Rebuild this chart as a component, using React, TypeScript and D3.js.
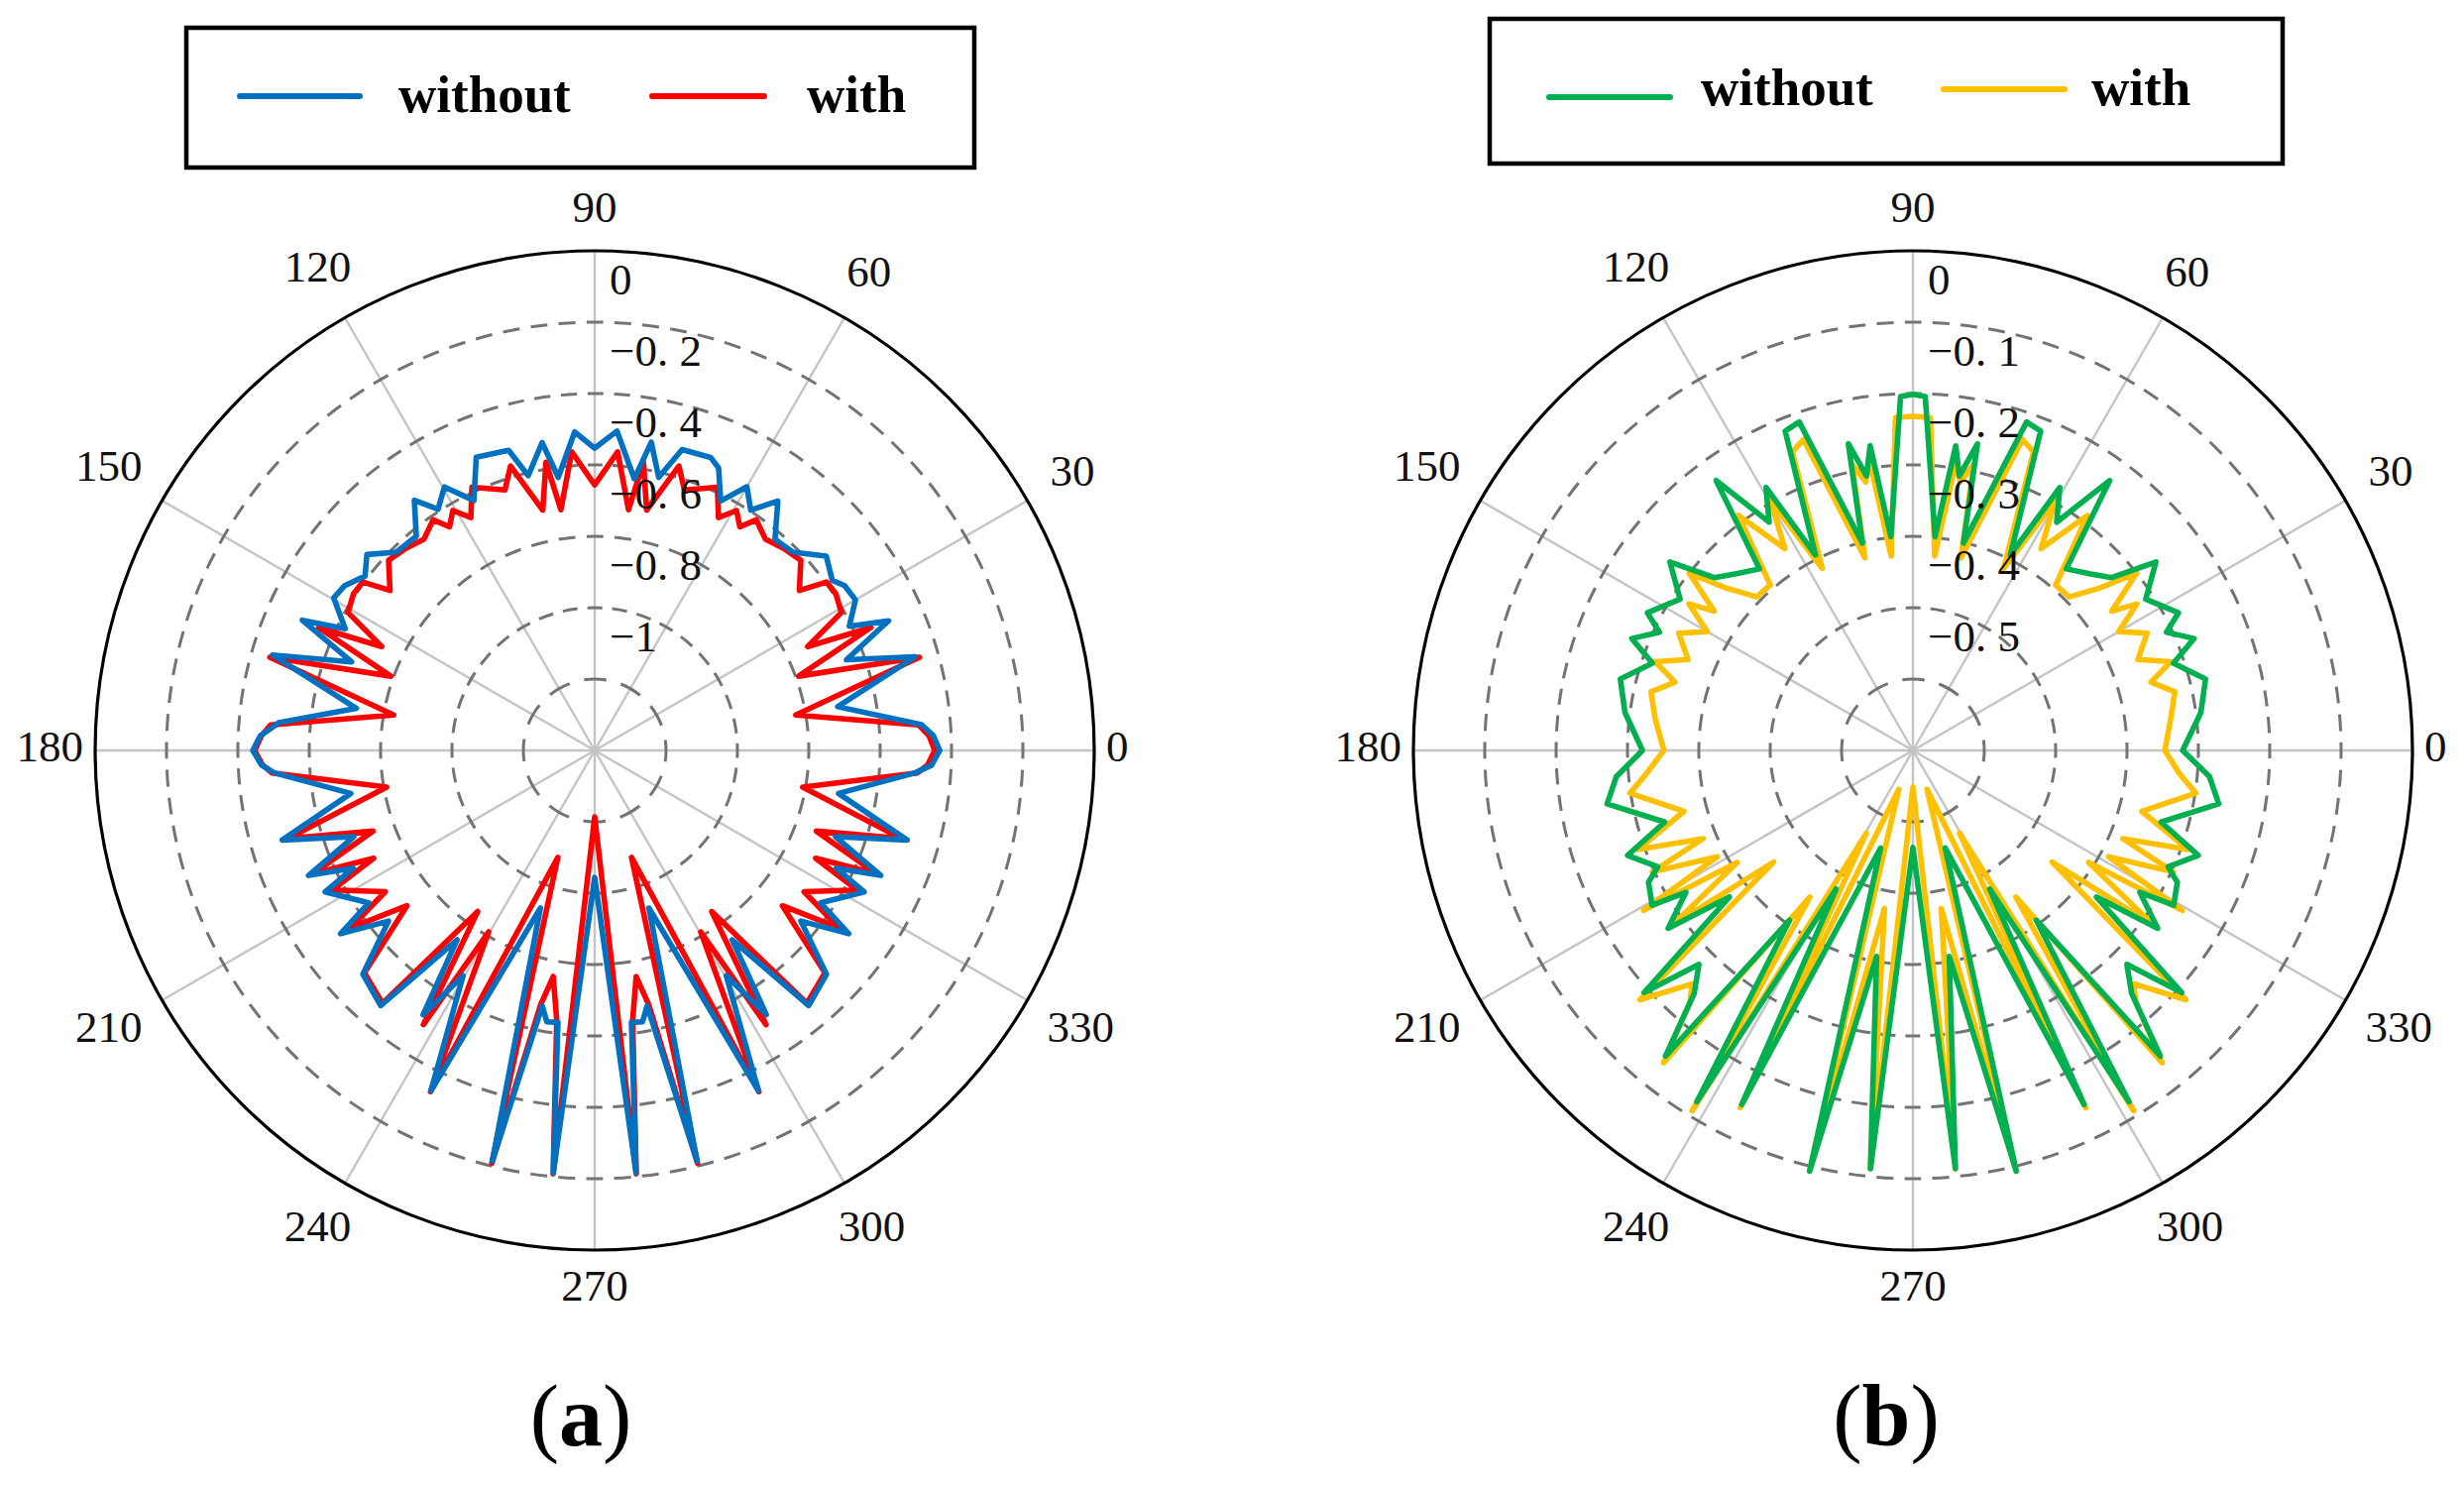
import React from "react";
import * as d3 from "d3";

const WIDTH = 2486;
const HEIGHT = 1499;

// ---------- shared axis data ----------
const ANGLE_TICKS = [0, 30, 60, 90, 120, 150, 180, 210, 240, 270, 300, 330];
const SERIES_LABELS = ["without", "with"];

// ---------- panel (a) ----------
const A_DOMAIN: [number, number] = [-1.4, 0];
const A_RINGS = [-1.2, -1, -0.8, -0.6, -0.4, -0.2];
const A_TICK_LABELS = [0, -0.2, -0.4, -0.6, -0.8, -1];

const A_WITHOUT_ANGLES = [
  0, 2.5, 4.5, 10.2, 16.3, 19.8, 23.8, 26, 30, 33.4, 35.6, 40, 45, 49.5, 53.7, 57, 60, 63.2, 66.3, 68.4, 73.8,
  76.8, 79.6, 81.7, 86, 90, 93.6, 97.6, 99.7, 103.6, 106, 112, 115.8, 119.7, 123, 125.8, 129.8, 135, 139.3,
  142.8, 146.6, 149.7, 154, 156, 160, 163.5, 170, 175, 177.5, 180, 182.5, 184, 190, 196, 199.7, 203.6, 206,
  207.7, 214, 215.8, 219.6, 224, 230, 234, 237, 239.7, 244.3, 251, 256, 258.4, 260, 262.3, 264.4, 270, 275.6,
  277.7, 280, 281.6, 284, 289, 295.7, 300.3, 303, 306, 310, 316, 320.4, 324.2, 326, 332.3, 334, 336.4, 340.3,
  344, 350, 356, 357.5, 360,
];
const A_WITHOUT_VALUES = [
  -0.433, -0.45, -0.481, -0.708, -0.464, -0.65, -0.5, -0.606, -0.556, -0.561, -0.581, -0.553, -0.614, -0.622,
  -0.533, -0.597, -0.547, -0.617, -0.536, -0.517, -0.522, -0.614, -0.522, -0.631, -0.503, -0.553, -0.506,
  -0.628, -0.525, -0.608, -0.525, -0.514, -0.622, -0.55, -0.594, -0.536, -0.619, -0.614, -0.558, -0.592,
  -0.561, -0.553, -0.622, -0.503, -0.675, -0.458, -0.722, -0.511, -0.462, -0.442, -0.465, -0.5, -0.706,
  -0.489, -0.683, -0.525, -0.647, -0.547, -0.636, -0.522, -0.65, -0.497, -0.467, -0.744, -0.517, -0.669,
  -0.342, -0.933, -0.214, -0.669, -0.628, -0.631, -0.211, -1.044, -0.211, -0.631, -0.628, -0.669, -0.214,
  -0.933, -0.342, -0.669, -0.517, -0.744, -0.467, -0.497, -0.65, -0.522, -0.636, -0.547, -0.647, -0.525,
  -0.683, -0.489, -0.706, -0.5, -0.455, -0.433,
];

const A_WITH_ANGLES = [
  0, 2.5, 4.5, 10, 16, 20, 24, 26, 29.2, 33, 36, 38, 42.7, 47, 51, 55, 57, 59.4, 62, 65, 71, 73.5, 77.8, 80.4,
  82, 85.6, 90, 94.4, 98, 99.6, 102.2, 106.5, 109, 115, 118, 120.6, 123, 125, 129, 133, 137.3, 142, 144,
  147, 150.8, 154, 156, 160, 164, 170, 175.5, 177.5, 180, 182.5, 184, 190, 196, 200, 203.6, 206, 208, 214,
  216, 219.6, 224, 230, 234, 238, 239.7, 244.3, 251, 256, 258, 259.6, 262, 264.4, 270, 275.6, 278, 280.4,
  282, 284, 289, 295.7, 300.3, 302, 306, 310, 316, 320.4, 324, 326, 332, 334, 336.4, 340, 344, 350, 356,
  357.5, 360,
];
const A_WITH_VALUES = [
  -0.447, -0.462, -0.489, -0.828, -0.453, -0.792, -0.553, -0.736, -0.608, -0.594, -0.597, -0.672, -0.614,
  -0.625, -0.639, -0.611, -0.653, -0.619, -0.661, -0.586, -0.628, -0.569, -0.711, -0.581, -0.719, -0.561,
  -0.656, -0.561, -0.719, -0.581, -0.711, -0.569, -0.628, -0.586, -0.661, -0.619, -0.653, -0.611, -0.639,
  -0.625, -0.614, -0.672, -0.597, -0.594, -0.608, -0.736, -0.553, -0.792, -0.453, -0.828, -0.489, -0.465,
  -0.447, -0.468, -0.494, -0.808, -0.506, -0.739, -0.539, -0.711, -0.567, -0.692, -0.553, -0.717, -0.503,
  -0.475, -0.842, -0.494, -0.811, -0.339, -1.083, -0.208, -0.672, -0.756, -0.636, -0.208, -1.214, -0.208,
  -0.636, -0.756, -0.672, -0.208, -1.083, -0.339, -0.811, -0.494, -0.842, -0.475, -0.503, -0.717, -0.553,
  -0.692, -0.567, -0.711, -0.539, -0.739, -0.506, -0.808, -0.494, -0.466, -0.447,
];

// ---------- panel (b) ----------
const B_DOMAIN: [number, number] = [-0.7, 0];
const B_RINGS = [-0.6, -0.5, -0.4, -0.3, -0.2, -0.1];
const B_TICK_LABELS = [0, -0.1, -0.2, -0.3, -0.4, -0.5];

const B_WITHOUT_ANGLES = [
  0, 7.5, 13.7, 18.5, 21.7, 25, 27.4, 33, 37.8, 41, 45, 49.8, 53.9, 57.8, 60.8, 63.5, 68.2, 70.9, 76.3,
  78.1, 80.4, 82, 84.1, 88, 90, 92, 95.9, 98, 99.6, 101.9, 103.7, 109.1, 111.8, 116.5, 119.2, 122.2, 126.1,
  130.2, 135, 139, 142.2, 147, 152.6, 155, 158.3, 161.5, 166.3, 172.5, 180, 185, 189.9, 196.1, 200.2, 204.5,
  206.5, 210.7, 212, 216, 218.6, 222, 225, 228, 231, 234, 238.4, 241, 244.2, 251.7, 256.2, 260, 264.2, 270,
  275.8, 280, 283.8, 288.3, 295.8, 299, 301.6, 306, 309, 312, 315, 318, 321.4, 324, 328, 329.3, 333.5,
  335.5, 339.8, 343.9, 350.1, 355, 360,
];
const B_WITHOUT_VALUES = [
  -0.322, -0.293, -0.278, -0.315, -0.276, -0.308, -0.281, -0.311, -0.269, -0.331, -0.35, -0.367, -0.232,
  -0.322, -0.278, -0.394, -0.218, -0.213, -0.401, -0.261, -0.31, -0.269, -0.399, -0.204, -0.201, -0.204,
  -0.399, -0.269, -0.31, -0.261, -0.401, -0.213, -0.218, -0.394, -0.278, -0.322, -0.232, -0.367, -0.35,
  -0.331, -0.269, -0.311, -0.281, -0.308, -0.276, -0.315, -0.278, -0.293, -0.321, -0.283, -0.265, -0.338,
  -0.274, -0.307, -0.286, -0.275, -0.325, -0.276, -0.371, -0.193, -0.276, -0.242, -0.149, -0.406, -0.122,
  -0.478, -0.149, -0.556, -0.093, -0.407, -0.111, -0.564, -0.111, -0.407, -0.093, -0.556, -0.149, -0.478,
  -0.122, -0.406, -0.149, -0.242, -0.276, -0.193, -0.371, -0.276, -0.325, -0.275, -0.286, -0.307, -0.274,
  -0.338, -0.265, -0.283, -0.322,
];

const B_WITH_ANGLES = [
  0, 7, 12.6, 16, 19, 22, 26.6, 30, 33.2, 35, 38.4, 41, 44.5, 49.2, 53.4, 57.6, 60.3, 63.5, 68, 70.6, 76,
  78, 80, 81.5, 83.6, 87, 90, 93, 96.4, 98.5, 100, 102, 104, 109.4, 112, 116.5, 119.7, 122.4, 126.6, 130.8,
  135.5, 139, 141.6, 145, 146.8, 150, 153.4, 158, 161, 164, 167.4, 173, 180, 185, 188.6, 194.9, 199.8,
  202.8, 205, 208.5, 210.7, 212.5, 216, 218.7, 222.4, 226.6, 228.5, 231.4, 234.9, 238.5, 240.6, 244.2, 250,
  256.2, 259.8, 264.2, 270, 275.8, 280.2, 283.8, 290, 295.8, 299.4, 301.5, 305.1, 308.6, 311.5, 313.4,
  317.6, 321.3, 324, 327.5, 329.3, 331.5, 335, 337.2, 340.2, 345.1, 351.4, 355, 360,
];
const B_WITH_VALUES = [
  -0.347, -0.336, -0.324, -0.353, -0.318, -0.36, -0.333, -0.367, -0.325, -0.36, -0.3, -0.353, -0.393,
  -0.394, -0.29, -0.365, -0.297, -0.415, -0.249, -0.238, -0.422, -0.29, -0.318, -0.29, -0.426, -0.233,
  -0.232, -0.233, -0.426, -0.29, -0.318, -0.29, -0.422, -0.238, -0.249, -0.415, -0.297, -0.365, -0.29,
  -0.394, -0.393, -0.353, -0.3, -0.36, -0.325, -0.367, -0.333, -0.36, -0.318, -0.353, -0.324, -0.336,
  -0.351, -0.325, -0.299, -0.368, -0.29, -0.381, -0.297, -0.388, -0.261, -0.408, -0.283, -0.45, -0.182,
  -0.25, -0.228, -0.14, -0.449, -0.108, -0.567, -0.144, -0.642, -0.093, -0.475, -0.111, -0.649, -0.111,
  -0.475, -0.093, -0.642, -0.144, -0.567, -0.108, -0.449, -0.14, -0.228, -0.25, -0.182, -0.45, -0.283,
  -0.408, -0.261, -0.388, -0.297, -0.381, -0.29, -0.368, -0.299, -0.325, -0.347,
];

// ---------- styling ----------
const FONT = "'Liberation Serif', 'Times New Roman', serif";
const COLOR_A_WITHOUT = "#0070C0";
const COLOR_A_WITH = "#FF0000";
const COLOR_B_WITHOUT = "#00B050";
const COLOR_B_WITH = "#FFC000";

type Series = { angles: number[]; values: number[]; color: string };

function fmtTick(v: number): string {
  if (v === 0) return "0";
  const s = String(Math.abs(v));
  return "\u2212" + s.replace(".", ". ");
}

function ringDash(r: number) {
  const arc = (Math.PI * r) / 6;
  const n = Math.max(1, Math.round(arc / 27));
  const p = arc / n;
  const dash = p * 0.6;
  return { dasharray: `${dash.toFixed(2)} ${(p - dash).toFixed(2)}`, offset: dash / 2 };
}

function PolarPanel(props: {
  cx: number;
  cy: number;
  R: number;
  domain: [number, number];
  rings: number[];
  ticks: number[];
  series: Series[];
}) {
  const { cx, cy, R, domain, rings, ticks, series } = props;
  const rScale = d3.scaleLinear().domain(domain).range([0, R]);
  const line = d3
    .lineRadial<[number, number]>()
    .angle((d) => ((90 - d[0]) * Math.PI) / 180)
    .radius((d) => rScale(d[1]));

  return (
    <g transform={`translate(${cx},${cy})`}>
      {ANGLE_TICKS.map((a) => {
        const t = (a * Math.PI) / 180;
        return (
          <line
            key={"sp" + a}
            x1={0}
            y1={0}
            x2={R * Math.cos(t)}
            y2={-R * Math.sin(t)}
            stroke="#c4c4c4"
            strokeWidth={2.4}
          />
        );
      })}
      {rings.map((v) => {
        const r = rScale(v);
        const dd = ringDash(r);
        return (
          <path
            key={"ring" + v}
            d={`M ${r} 0 A ${r} ${r} 0 1 1 ${-r} 0 A ${r} ${r} 0 1 1 ${r} 0`}
            fill="none"
            stroke="#737373"
            strokeWidth={3}
            strokeDasharray={dd.dasharray}
            strokeDashoffset={dd.offset}
          />
        );
      })}
      <circle r={R} fill="none" stroke="#000" strokeWidth={3.2} />
      {series.map((s, i) => {
        const pts: [number, number][] = s.angles.map((a, k) => [a, s.values[k]]);
        return (
          <path
            key={"s" + i}
            d={line(pts) || ""}
            fill="none"
            stroke={s.color}
            strokeWidth={5.6}
            strokeLinejoin="round"
            strokeLinecap="round"
          />
        );
      })}
      {ticks.map((v) => (
        <text
          key={"tl" + v}
          x={15}
          y={-rScale(v) + 44}
          fontFamily={FONT}
          fontSize={45}
          fill="#111"
        >
          {fmtTick(v)}
        </text>
      ))}
      {ANGLE_TICKS.map((a) => {
        const t = (a * Math.PI) / 180;
        const c = Math.cos(t);
        const s = Math.sin(t);
        const label = String(a);
        const w = label.length * 22.5;
        const h = 28;
        const gap = Math.abs(c) > 0.99 ? 12 : 26;
        const dist = R + gap + (Math.abs(c) * w) / 2 + (Math.abs(s) * h) / 2;
        return (
          <text
            key={"al" + a}
            x={dist * c}
            y={-dist * s - 4}
            textAnchor="middle"
            dominantBaseline="central"
            fontFamily={FONT}
            fontSize={45}
            fill="#111"
          >
            {label}
          </text>
        );
      })}
    </g>
  );
}

function Legend(props: {
  x: number;
  y: number;
  w: number;
  h: number;
  items: { color: string; x1: number; x2: number; ly: number; tx: number; ty: number; label: string }[];
}) {
  const { x, y, w, h, items } = props;
  return (
    <g>
      <rect x={x} y={y} width={w} height={h} fill="#fff" stroke="#000" strokeWidth={4.5} />
      {items.map((it, i) => (
        <g key={i}>
          <line x1={it.x1} x2={it.x2} y1={it.ly} y2={it.ly} stroke={it.color} strokeWidth={6} strokeLinecap="round" />
          <text x={it.tx} y={it.ty} fontFamily={FONT} fontWeight="bold" fontSize={53} fill="#000">
            {it.label}
          </text>
        </g>
      ))}
    </g>
  );
}

export default function App() {
  const R = 504;
  const panelA: Series[] = [
    { angles: A_WITH_ANGLES, values: A_WITH_VALUES, color: COLOR_A_WITH },
    { angles: A_WITHOUT_ANGLES, values: A_WITHOUT_VALUES, color: COLOR_A_WITHOUT },
  ];
  const panelB: Series[] = [
    { angles: B_WITH_ANGLES, values: B_WITH_VALUES, color: COLOR_B_WITH },
    { angles: B_WITHOUT_ANGLES, values: B_WITHOUT_VALUES, color: COLOR_B_WITHOUT },
  ];
  return (
    <svg
      width={WIDTH}
      height={HEIGHT}
      viewBox={`0 0 ${WIDTH} ${HEIGHT}`}
      style={{ position: "absolute", left: 0, top: 0, display: "block", background: "#fff" }}
    >
      <rect x={0} y={0} width={WIDTH} height={HEIGHT} fill="#fff" />
      <Legend
        x={188}
        y={28}
        w={795}
        h={141}
        items={[
          { color: COLOR_A_WITHOUT, x1: 242, x2: 363, ly: 97, tx: 402, ty: 113, label: SERIES_LABELS[0] },
          { color: COLOR_A_WITH, x1: 658, x2: 771, ly: 97, tx: 814, ty: 113, label: SERIES_LABELS[1] },
        ]}
      />
      <Legend
        x={1503}
        y={19}
        w={800}
        h={146}
        items={[
          { color: COLOR_B_WITHOUT, x1: 1563, x2: 1685, ly: 98, tx: 1716, ty: 106, label: SERIES_LABELS[0] },
          { color: COLOR_B_WITH, x1: 1961, x2: 2083, ly: 90, tx: 2110, ty: 106, label: SERIES_LABELS[1] },
        ]}
      />
      <PolarPanel cx={600} cy={757} R={R} domain={A_DOMAIN} rings={A_RINGS} ticks={A_TICK_LABELS} series={panelA} />
      <PolarPanel cx={1930} cy={757} R={R} domain={B_DOMAIN} rings={B_RINGS} ticks={B_TICK_LABELS} series={panelB} />
      <text x={586} y={1458} textAnchor="middle" fontFamily={FONT} fontSize={88} fill="#000">
        (<tspan fontWeight="bold">a</tspan>)
      </text>
      <text x={1903} y={1458} textAnchor="middle" fontFamily={FONT} fontSize={88} fill="#000">
        (<tspan fontWeight="bold">b</tspan>)
      </text>
    </svg>
  );
}
